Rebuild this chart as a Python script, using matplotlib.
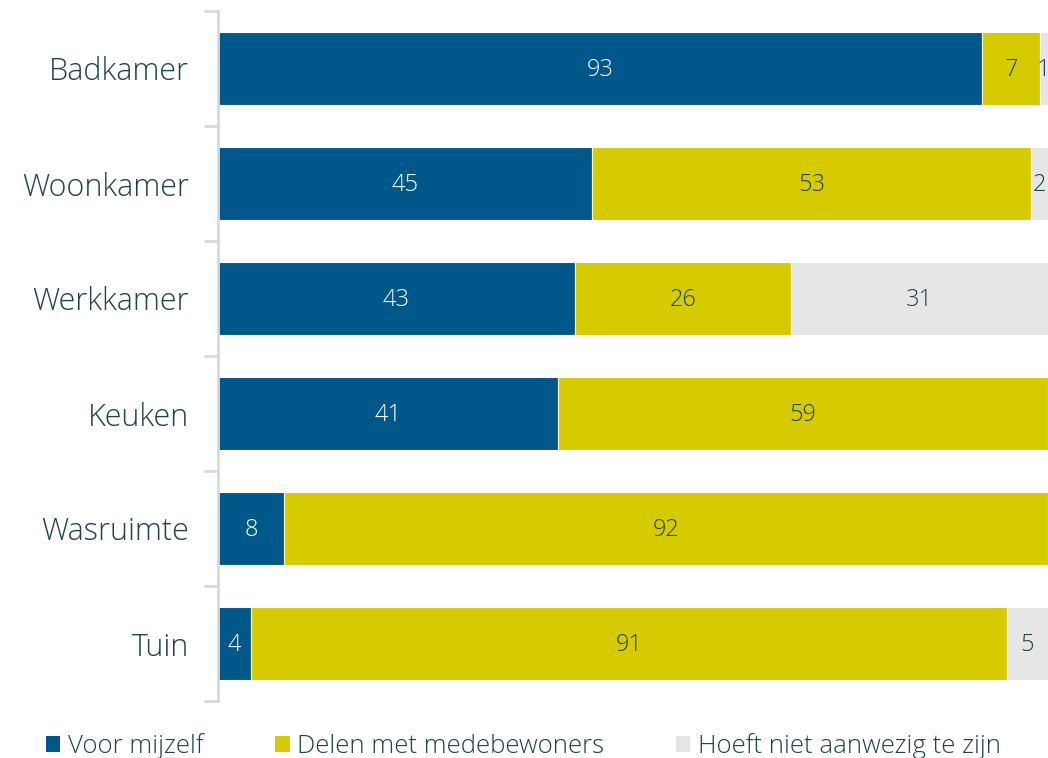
import matplotlib
matplotlib.use('Agg')
import numpy as np
from matplotlib import pyplot as plt
from matplotlib.patches import Patch

plt.rcParams['font.family'] = ['Open Sans', 'DejaVu Sans']

categories = ['Badkamer', 'Woonkamer', 'Werkkamer', 'Keuken', 'Wasruimte', 'Tuin']
voor_mijzelf = [93, 45, 43, 41, 8, 4]
delen = [7, 53, 26, 59, 92, 91]
hoeft_niet = [1, 2, 31, 0, 0, 5]
series_names = ['Voor mijzelf', 'Delen met medebewoners', 'Hoeft niet aanwezig te zijn']

colors = ['#00578A', '#D6CB00', '#E6E6E6']
text_colors = ['white', '#1E434B', '#1E434B']
dark = '#1E434B'

data = np.array([voor_mijzelf, delen, hoeft_niet], dtype=float)
# bars are drawn as share of the row total
shares = data / data.sum(axis=0) * 100

fig = plt.figure(figsize=(10.48, 7.58), dpi=100)
ax = fig.add_axes([218 / 1048, 57 / 758, 830 / 1048, 690 / 758])

y = np.arange(len(categories))
left = np.zeros(len(categories))
for i in range(3):
    ax.barh(y, shares[i], left=left, height=0.63, color=colors[i],
            edgecolor='white', linewidth=0.8)
    for j in range(len(categories)):
        if data[i, j] > 0:
            ax.text(left[j] + shares[i, j] / 2, y[j] + 0.01, '%d' % data[i, j],
                    ha='center', va='center', fontsize=17, color=text_colors[i],
                    fontweight='light', clip_on=False)
    left += shares[i]

ax.set_xlim(0, 100)
ax.set_ylim(len(categories) - 0.5, -0.5)
ax.set_yticks(y)
ax.set_yticklabels(categories, fontsize=22, color=dark, fontweight='light')
ax.tick_params(axis='y', length=0, pad=21)
ax.set_yticks(np.arange(-0.5, len(categories)), minor=True)
ax.tick_params(axis='y', which='minor', length=10, width=2, color='#D9D9D9')
ax.set_xticks([])
for s in ['top', 'right', 'bottom']:
    ax.spines[s].set_visible(False)
ax.spines['left'].set_color('#D9D9D9')
ax.spines['left'].set_linewidth(2)

handles = [Patch(facecolor=c, edgecolor='none') for c in colors]
leg = fig.legend(handles, series_names, loc='center left', bbox_to_anchor=(0.044, 12 / 758),
                 ncol=3, frameon=False, fontsize=18.5, handlelength=0.55, handleheight=0.55,
                 handletextpad=0.3, columnspacing=2.8, borderaxespad=0, borderpad=0)
for t in leg.get_texts():
    t.set_color(dark)
    t.set_fontweight('light')

fig.savefig('out.png', dpi=100)
